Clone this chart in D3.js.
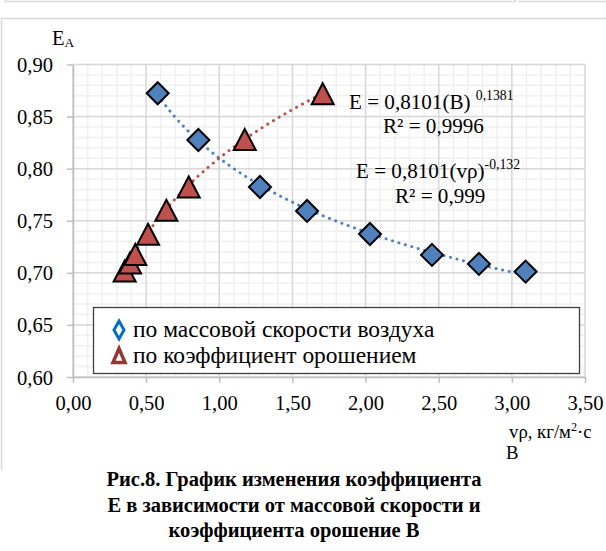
<!DOCTYPE html>
<html><head><meta charset="utf-8">
<script src="https://cdn.jsdelivr.net/npm/d3@7"></script>
<style>html,body{margin:0;padding:0;background:#fff;}svg{display:block;}</style>
</head><body>
<script>
// ---- data ----
const seriesNames = ["по массовой скорости воздуха", "по коэффициент орошением"];
const blueX = [0.579, 0.857, 1.278, 1.60, 2.03, 2.454, 2.775, 3.094];
const blueY = [0.8724, 0.8275, 0.7824, 0.7594, 0.7373, 0.7172, 0.7086, 0.7012];
const redX = [0.353, 0.39, 0.426, 0.513, 0.638, 0.791, 1.174, 1.707];
const redY = [0.7017, 0.7095, 0.7176, 0.737, 0.760, 0.7824, 0.828, 0.8719];
// power trendline coefficients (E = a * x^b) as shown on the chart
const blueTrend = [0.8101, -0.132];
const redTrend = [0.8101, 0.1381];
const xTicks = [0, 0.5, 1.0, 1.5, 2.0, 2.5, 3.0, 3.5];
const yTicks = [0.60, 0.65, 0.70, 0.75, 0.80, 0.85, 0.90];
const captionLines = ["Рис.8. График изменения коэффициента", "Е в зависимости от массовой скорости и", "коэффициента орошение В"];

const W = 606, H = 551;
// pick an installed serif family
const cv = document.createElement("canvas").getContext("2d");
const probe = "Рис.8 абвгд 0,90 WMmli";
cv.font = "100px monospace"; const baseW = cv.measureText(probe).width;
const cands = ["Liberation Serif", "Tinos", "Times New Roman", "Times", "Nimbus Roman", "DejaVu Serif", "Noto Serif", "FreeSerif"];
let FAM = "serif";
for (const c of cands) { cv.font = `100px "${c}", monospace`; if (Math.abs(cv.measureText(probe).width - baseW) > 0.5) { FAM = `"${c}", serif`; break; } }
function fit(str, target, weight) { cv.font = `${weight || "normal"} 100px ${FAM}`; return 100 * target / cv.measureText(str).width; }
const clamp = v => Math.max(12, Math.min(28, v));
const fsTick = clamp(fit("0,90", 36));
const fsEq = clamp(fit("R² = 0,9996", 101));
const fsLeg = clamp((fit(seriesNames[0], 300) + fit(seriesNames[1], 285)) / 2);
const fsCap = clamp(Math.min(fit(captionLines[2], 296, "bold"), 20.5));
const fsAx = clamp(fit("vρ, кг/м", 62));

const svg = d3.select("body").append("svg").attr("width", W).attr("height", H).style("font-family", FAM);

// frames
svg.append("path").attr("d", "M5.5,-5 V1.5 H515.5 V-5").attr("fill","none").attr("stroke","#d9d9d9").attr("stroke-width",1.5);
svg.append("path").attr("d", "M518.5,1.5 H606").attr("fill","none").attr("stroke","#d9d9d9").attr("stroke-width",1.5);
svg.append("path").attr("d", "M1.5,470 V18.5 H606").attr("fill","none").attr("stroke","#d9d9d9").attr("stroke-width",1.5);

const x = d3.scaleLinear().domain([0, 3.5]).range([73, 585]);
const y = d3.scaleLinear().domain([0.60, 0.90]).range([377, 64.5]);

const g = svg.append("g");
const xMinor = d3.range(0, 3.5001, 0.1);
const yMinor = d3.range(0.60, 0.9001, 0.01);
g.selectAll(".xm").data(xMinor).enter().append("line")
  .attr("x1", d => x(d)).attr("x2", d => x(d)).attr("y1", y(0.60)).attr("y2", y(0.90))
  .attr("stroke", "#f0f0f0").attr("stroke-width", 1.5);
g.selectAll(".ym").data(yMinor).enter().append("line")
  .attr("y1", d => y(d)).attr("y2", d => y(d)).attr("x1", x(0)).attr("x2", x(3.5))
  .attr("stroke", "#f0f0f0").attr("stroke-width", 1.5);
g.selectAll(".xM").data(xTicks).enter().append("line")
  .attr("x1", d => x(d)).attr("x2", d => x(d)).attr("y1", y(0.60)).attr("y2", y(0.90))
  .attr("stroke", "#d9d9d9").attr("stroke-width", 1.5);
g.selectAll(".yM").data(yTicks).enter().append("line")
  .attr("y1", d => y(d)).attr("y2", d => y(d)).attr("x1", x(0)).attr("x2", x(3.5))
  .attr("stroke", "#d9d9d9").attr("stroke-width", 1.5);

// axes
const fmt2 = d => d3.format(".2f")(d).replace(".", ",");
const xAxis = d3.axisBottom(x).tickValues(xTicks).tickSize(6).tickSizeOuter(0).tickFormat(fmt2);
const yAxis = d3.axisLeft(y).tickValues(yTicks).tickSize(6).tickSizeOuter(0).tickFormat(fmt2);
const gx = svg.append("g").attr("transform", `translate(0,${y(0.60)})`).call(xAxis);
const gy = svg.append("g").attr("transform", `translate(${x(0)},0)`).call(yAxis);
[gx, gy].forEach(a => {
  a.attr("font-family", null).attr("font-size", null);
  a.select(".domain").attr("stroke", "#bfbfbf").attr("stroke-width", 1.5);
  a.selectAll(".tick line").attr("stroke", "#bfbfbf").attr("stroke-width", 1.5);
  a.selectAll("text").attr("font-family", FAM).attr("font-size", fsTick).attr("fill", "#000");
});
gx.selectAll("text").attr("dy", null).attr("y", 33);
gy.selectAll("text").attr("x", -20).attr("dy", "0.34em");

// trendlines
function trend(xs, coef) {
  const lo = d3.min(xs), hi = d3.max(xs);
  const pts = d3.range(0, 101).map(i => { const v = lo + (hi - lo) * i / 100; return [v, coef[0] * Math.pow(v, coef[1])]; });
  return d3.line().x(d => x(d[0])).y(d => y(d[1]))(pts);
}
svg.append("path").attr("d", trend(blueX, blueTrend)).attr("fill","none").attr("stroke","#4f81bd")
  .attr("stroke-width",3).attr("stroke-linecap","round").attr("stroke-dasharray","0.1 6.6");
svg.append("path").attr("d", trend(redX, redTrend)).attr("fill","none").attr("stroke","#c0504d")
  .attr("stroke-width",3).attr("stroke-linecap","round").attr("stroke-dasharray","0.1 6.6");

// markers
const blue = blueX.map((v, i) => [v, blueY[i]]);
const red = redX.map((v, i) => [v, redY[i]]);
svg.selectAll(".dia").data(blue).enter().append("path")
  .attr("d", "M0,-11 L11,0 L0,11 L-11,0 Z")
  .attr("transform", d => `translate(${x(d[0])},${y(d[1])})`)
  .attr("fill", "#4f81bd").attr("stroke", "#000").attr("stroke-width", 2);
svg.selectAll(".tri").data(red).enter().append("path")
  .attr("d", "M0,-10.5 L11,10.5 L-11,10.5 Z")
  .attr("transform", d => `translate(${x(d[0])},${y(d[1])})`)
  .attr("fill", "#c0504d").attr("stroke", "#000").attr("stroke-width", 2);

// equations
function eq(xp, yp, parts) {
  const t = svg.append("text").attr("x", xp).attr("y", yp).attr("font-size", fsEq).attr("fill", "#000");
  parts.forEach(p => {
    const s = t.append("tspan").text(p.t);
    if (p.sup) s.attr("font-size", fsEq * 0.65).attr("dy", p.dy);
  });
  return t;
}
eq(349, 109, [{t: "E = 0,8101(B) "}, {t: "0,1381", sup: true, dy: -9}]);
eq(383, 133, [{t: "R² = 0,9996"}]);
eq(356, 178, [{t: "E = 0,8101(vρ)"}, {t: "-0,132", sup: true, dy: -9}]);
eq(395, 203, [{t: "R² = 0,999"}]);

// legend
svg.append("rect").attr("x", 93.5).attr("y", 307.5).attr("width", 486).attr("height", 66)
  .attr("fill", "#fff").attr("stroke", "#404040").attr("stroke-width", 1.3);
svg.append("path").attr("d", "M0,-9 L5,0 L0,9 L-5,0 Z").attr("transform", "translate(119,330)")
  .attr("fill", "#fff").attr("stroke", "#0070c0").attr("stroke-width", 3);
svg.append("path").attr("d", "M0,-7.5 L6,6.5 L-6,6.5 Z").attr("transform", "translate(119,356)")
  .attr("fill", "#fff").attr("stroke", "#953735").attr("stroke-width", 3.5);
svg.append("text").attr("x", 133).attr("y", 337).attr("font-size", fsLeg).text(seriesNames[0]);
svg.append("text").attr("x", 133).attr("y", 363).attr("font-size", fsLeg).text(seriesNames[1]);

// axis titles
const ea = svg.append("text").attr("x", 52).attr("y", 45).attr("font-size", fsTick);
ea.append("tspan").text("E");
ea.append("tspan").text("A").attr("font-size", fsTick * 0.65).attr("dy", 2);
const xt = svg.append("text").attr("x", 509).attr("y", 438).attr("font-size", fsAx);
xt.append("tspan").text("vρ, кг/м");
xt.append("tspan").text("2").attr("font-size", fsAx * 0.65).attr("dy", -7);
xt.append("tspan").text("·с").attr("dy", 7);
svg.append("text").attr("x", 506).attr("y", 459).attr("font-size", fsAx).text("В");

// caption
captionLines.forEach((l, i) => {
  svg.append("text").attr("x", 294).attr("y", 486 + i * 25.5).attr("text-anchor", "middle")
    .attr("font-size", fsCap).attr("font-weight", "bold").text(l);
});
</script>
</body></html>
